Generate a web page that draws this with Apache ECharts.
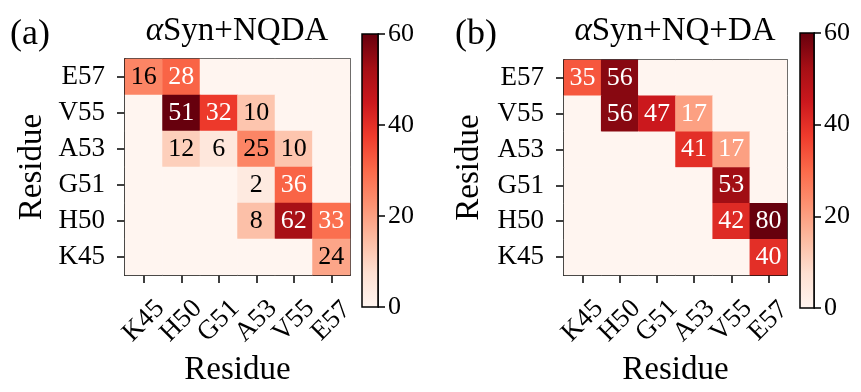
<!DOCTYPE html>
<html>
<head>
<meta charset="utf-8">
<script src="https://cdn.jsdelivr.net/npm/echarts@6/dist/echarts.min.js"></script>
<style>html,body{margin:0;padding:0;background:#fff}#c{width:861px;height:392px}</style>
</head>
<body>
<div id="c"></div>
<script>
// ---- data ----
const residues = ['K45', 'H50', 'G51', 'A53', 'V55', 'E57'];
const colorbarTicks = [0, 20, 40, 60];
const colorMin = 0, colorMax = 60;

// Panel (a): alphaSyn+NQDA — printed numbers, rows listed top (E57) to bottom (K45), columns K45..E57
const labelsA_E57 = [16, 28, 0, 0, 0, 0];
const labelsA_V55 = [0, 51, 32, 10, 0, 0];
const labelsA_A53 = [0, 12, 6, 25, 10, 0];
const labelsA_G51 = [0, 0, 0, 2, 36, 0];
const labelsA_H50 = [0, 0, 0, 8, 62, 33];
const labelsA_K45 = [0, 0, 0, 0, 0, 24];
// shade levels (on the 0-60 colour bar)
const shadeA_E57 = [25, 31, 0, 0, 0, 0];
const shadeA_V55 = [0, 60, 38, 13, 0, 0];
const shadeA_A53 = [0, 11, 5, 25, 13, 0];
const shadeA_G51 = [0, 0, 0, 4, 31, 0];
const shadeA_H50 = [0, 0, 0, 14, 52, 29];
const shadeA_K45 = [0, 0, 0, 0, 0, 19];

// Panel (b): alphaSyn+NQ+DA
const labelsB_E57 = [35, 56, 0, 0, 0, 0];
const labelsB_V55 = [0, 56, 47, 17, 0, 0];
const labelsB_A53 = [0, 0, 0, 41, 17, 0];
const labelsB_G51 = [0, 0, 0, 0, 53, 0];
const labelsB_H50 = [0, 0, 0, 0, 42, 80];
const labelsB_K45 = [0, 0, 0, 0, 0, 40];
const shadeB_E57 = [33, 56, 0, 0, 0, 0];
const shadeB_V55 = [0, 56, 45, 20, 0, 0];
const shadeB_A53 = [0, 0, 0, 40, 20, 0];
const shadeB_G51 = [0, 0, 0, 0, 53, 0];
const shadeB_H50 = [0, 0, 0, 0, 41, 60];
const shadeB_K45 = [0, 0, 0, 0, 0, 40];

const titleA = 'Syn+NQDA';
const titleB = 'Syn+NQ+DA';
const axisName = 'Residue';

// ---- build ----
const REDS = ['#fff5f0','#fee0d2','#fcbba1','#fc9272','#fb6a4a','#ef3b2c','#cb181d','#a50f15','#67000d'];
const FONT = 'Liberation Serif';

function build(labelRows, shadeRows, whiteAbove) {
  const out = [];
  const n = residues.length;
  for (let r = 0; r < n; r++) {
    const yi = n - 1 - r;
    for (let xi = 0; xi < n; xi++) {
      const lab = labelRows[r][xi];
      const sh = shadeRows[r][xi];
      out.push({
        value: [xi, yi, sh, lab],
        label: { show: lab > 0, color: sh > whiteAbove ? '#ffffff' : '#000000' }
      });
    }
  }
  return out;
}
const dataA = build([labelsA_E57, labelsA_V55, labelsA_A53, labelsA_G51, labelsA_H50, labelsA_K45],
                    [shadeA_E57, shadeA_V55, shadeA_A53, shadeA_G51, shadeA_H50, shadeA_K45], 27);
const dataB = build([labelsB_E57, labelsB_V55, labelsB_A53, labelsB_G51, labelsB_H50, labelsB_K45],
                    [shadeB_E57, shadeB_V55, shadeB_A53, shadeB_G51, shadeB_H50, shadeB_K45], 15);

const panels = [
  { grid: { left: 125, top: 59, width: 225, height: 223 }, cb: { left: 362, top: 34, width: 16, height: 273 }, yGap: 76 },
  { grid: { left: 564, top: 60, width: 223, height: 223 }, cb: { left: 800, top: 33, width: 14, height: 275 }, yGap: 78 }
];

const grids = [], xAxes = [], yAxes = [], series = [], visualMaps = [];
const datas = [dataA, dataB];
panels.forEach((p, i) => {
  const gi = grids.length;
  grids.push(Object.assign({ show: true, borderColor: '#000', borderWidth: 1.5, backgroundColor: 'transparent' }, p.grid));
  xAxes.push({
    type: 'category', data: residues, gridIndex: gi, position: 'bottom',
    axisLine: { show: true, lineStyle: { color: '#000', width: 1.5 } },
    axisTick: { show: true, alignWithLabel: true, interval: 0, length: 8, lineStyle: { color: '#000', width: 1.5 } },
    axisLabel: { interval: 0, rotate: 45, margin: 46, align: 'center', verticalAlign: 'middle', fontSize: 27, fontFamily: FONT, color: '#000' },
    splitLine: { show: false },
    name: axisName, nameLocation: 'middle', nameGap: 70,
    nameTextStyle: { fontSize: 33, fontFamily: FONT, color: '#000' }
  });
  yAxes.push({
    type: 'category', data: residues, gridIndex: gi, position: 'left',
    axisLine: { show: true, lineStyle: { color: '#000', width: 1.5 } },
    axisTick: { show: true, alignWithLabel: true, interval: 0, length: 8, lineStyle: { color: '#000', width: 1.5 } },
    axisLabel: { interval: 0, margin: 20, fontSize: 27, fontFamily: FONT, color: '#000' },
    splitLine: { show: false },
    name: axisName, nameLocation: 'middle', nameGap: p.yGap,
    nameTextStyle: { fontSize: 33, fontFamily: FONT, color: '#000' }
  });
  const hmIndex = series.length;
  series.push({
    type: 'heatmap', xAxisIndex: xAxes.length - 1, yAxisIndex: yAxes.length - 1,
    data: datas[i],
    label: { show: true, fontSize: 26, fontFamily: FONT, formatter: (pp) => pp.value[3] > 0 ? String(pp.value[3]) : '' },
    emphasis: { disabled: true },
    z: 1
  });
  visualMaps.push({ type: 'continuous', show: false, seriesIndex: hmIndex, dimension: 2, min: colorMin, max: colorMax, inRange: { color: REDS } });

  // colour bar
  const cgi = grids.length;
  grids.push(Object.assign({ show: true, borderColor: '#000', borderWidth: 1.5, backgroundColor: 'transparent', z: 5 }, p.cb));
  xAxes.push({ type: 'category', data: ['cb'], gridIndex: cgi, show: false });
  yAxes.push({
    type: 'value', gridIndex: cgi, position: 'right', min: colorMin, max: colorMax, interval: 20,
    axisLine: { show: true, lineStyle: { color: '#000', width: 1.5 } },
    axisTick: { show: true, length: 7, lineStyle: { color: '#000', width: 1.5 } },
    axisLabel: { margin: 10, fontSize: 26, fontFamily: FONT, color: '#000',
      formatter: (v) => colorbarTicks.indexOf(v) >= 0 ? String(v) : '' },
    splitLine: { show: false }
  });
  series.push({
    type: 'bar', xAxisIndex: xAxes.length - 1, yAxisIndex: yAxes.length - 1,
    data: [colorMax], barWidth: '100%', silent: true,
    itemStyle: {
      color: new echarts.graphic.LinearGradient(0, 1, 0, 0, REDS.map((c, k) => ({ offset: k / (REDS.length - 1), color: c })))
    }
  });
});

const titles = [
  { text: '(a)', left: 10, top: 17, padding: 0, textStyle: { fontSize: 36, fontWeight: 'normal', fontFamily: FONT, color: '#000' } },
  { text: '{i|α}' + titleA, left: 237, top: 15, textAlign: 'center', padding: 0,
    textStyle: { fontSize: 33, fontWeight: 'normal', fontFamily: FONT, color: '#000',
      rich: { i: { fontSize: 33, fontStyle: 'italic', fontFamily: FONT, color: '#000' } } } },
  { text: '(b)', left: 455, top: 17, padding: 0, textStyle: { fontSize: 36, fontWeight: 'normal', fontFamily: FONT, color: '#000' } },
  { text: '{i|α}' + titleB, left: 675, top: 15, textAlign: 'center', padding: 0,
    textStyle: { fontSize: 33, fontWeight: 'normal', fontFamily: FONT, color: '#000',
      rich: { i: { fontSize: 33, fontStyle: 'italic', fontFamily: FONT, color: '#000' } } } }
];

const chart = echarts.init(document.getElementById('c'), null, { renderer: 'canvas' });
chart.setOption({
  backgroundColor: '#fff',
  animation: false,
  title: titles,
  grid: grids, xAxis: xAxes, yAxis: yAxes,
  visualMap: visualMaps,
  series: series
});
</script>
</body>
</html>
